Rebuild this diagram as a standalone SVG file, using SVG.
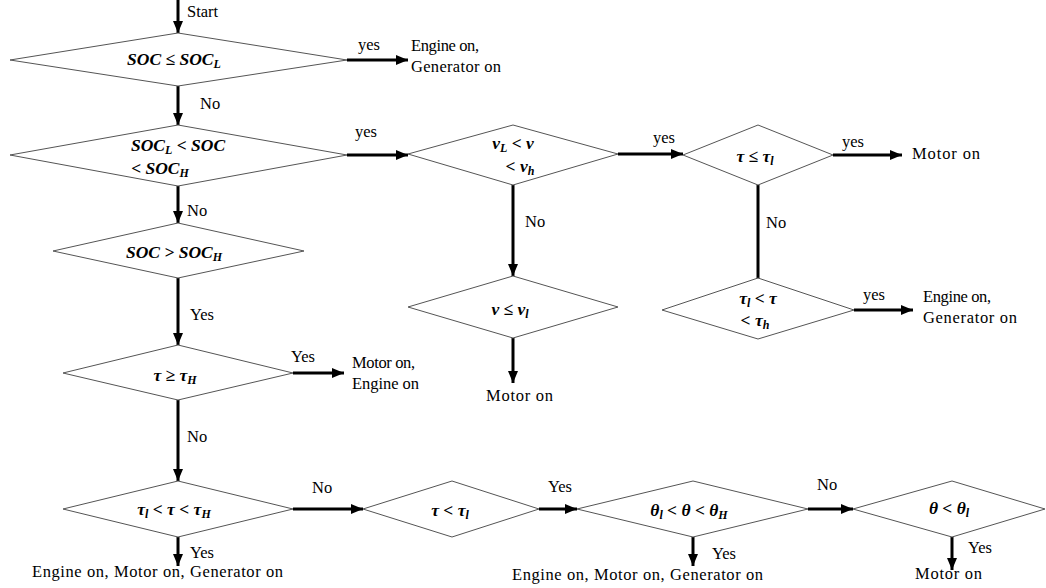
<svg xmlns="http://www.w3.org/2000/svg" width="1046" height="588" viewBox="0 0 1046 588">
<style>
.d{fill:#fff;stroke:#555;stroke-width:1}
.c{stroke:#000;stroke-width:3;fill:none}
.a{marker-end:url(#ah)}
text{font-family:'Liberation Serif','DejaVu Serif',serif}
.t{font-size:16.5px;fill:#000}
.m{font-size:17.5px;font-weight:bold;font-style:italic;fill:#000;text-anchor:middle}
.s{font-size:12px}
</style>
<defs>
<marker id="ah" markerUnits="userSpaceOnUse" markerWidth="12" markerHeight="10" refX="12" refY="5" orient="auto">
<path d="M0,0 L12,5 L0,10 Z" fill="#000"/>
</marker>
</defs>
<rect width="1046" height="588" fill="#fff"/>
<g id="connectors">
<line class="c a" x1="178" y1="0" x2="178" y2="33"/>
<line class="c a" x1="347" y1="60" x2="408" y2="60"/>
<line class="c a" x1="178" y1="86" x2="178" y2="125"/>
<line class="c a" x1="347" y1="155" x2="408" y2="155"/>
<line class="c a" x1="618" y1="154" x2="683" y2="154"/>
<line class="c a" x1="833" y1="155" x2="902" y2="155"/>
<line class="c" x1="758" y1="185" x2="758" y2="279"/>
<line class="c a" x1="854" y1="310" x2="913" y2="310"/>
<line class="c a" x1="513" y1="185" x2="513" y2="276"/>
<line class="c a" x1="513" y1="338" x2="513" y2="383"/>
<line class="c a" x1="178" y1="186" x2="178" y2="223"/>
<line class="c a" x1="178" y1="278" x2="178" y2="345"/>
<line class="c a" x1="293" y1="373" x2="344" y2="373"/>
<line class="c a" x1="178" y1="400" x2="178" y2="481"/>
<line class="c a" x1="293" y1="509" x2="363" y2="509"/>
<line class="c a" x1="178" y1="537" x2="178" y2="566"/>
<line class="c a" x1="539" y1="509" x2="577" y2="509"/>
<line class="c a" x1="693" y1="537" x2="693" y2="566"/>
<line class="c a" x1="808" y1="509" x2="853" y2="509"/>
<line class="c a" x1="952" y1="537" x2="952" y2="570"/>
</g>
<g id="labels">
<text class="t" x="187" y="17">Start</text>
<text class="t" x="358" y="50">yes</text>
<text class="t" x="411" y="51" textLength="68">Engine on,</text>
<text class="t" x="411" y="72" textLength="90">Generator on</text>
<text class="t" x="200" y="109">No</text>
<text class="t" x="355" y="137">yes</text>
<text class="t" x="187" y="216">No</text>
<text class="t" x="190" y="320">Yes</text>
<text class="t" x="291" y="362">Yes</text>
<text class="t" x="352" y="368" textLength="63">Motor on,</text>
<text class="t" x="352" y="389" textLength="67">Engine on</text>
<text class="t" x="187" y="442">No</text>
<text class="t" x="312" y="493">No</text>
<text class="t" x="190" y="558">Yes</text>
<text class="t" x="32" y="577" textLength="251">Engine on, Motor on, Generator on</text>
<text class="t" x="548" y="492">Yes</text>
<text class="t" x="712" y="559">Yes</text>
<text class="t" x="512" y="580" textLength="251">Engine on, Motor on, Generator on</text>
<text class="t" x="817" y="490">No</text>
<text class="t" x="968" y="553">Yes</text>
<text class="t" x="915" y="579" textLength="67">Motor on</text>
<text class="t" x="653" y="143">yes</text>
<text class="t" x="525" y="227">No</text>
<text class="t" x="486" y="401" textLength="67">Motor on</text>
<text class="t" x="842" y="147">yes</text>
<text class="t" x="912" y="159" textLength="68">Motor on</text>
<text class="t" x="766" y="228">No</text>
<text class="t" x="863" y="300">yes</text>
<text class="t" x="923" y="302" textLength="68">Engine on,</text>
<text class="t" x="923" y="323" textLength="94">Generator on</text>
</g>
<g id="n1"><polygon class="d" points="10,60 178,33 347,60 178,86"/>
<text class="m" x="174" y="65">SOC ≤ SOC<tspan class="s" dy="3">L</tspan></text></g>
<g id="n2"><polygon class="d" points="10,155 178,125 347,155 178,186"/>
<text class="m" x="178" y="151">SOC<tspan class="s" dy="3">L</tspan><tspan dy="-3"> &lt; SOC</tspan></text>
<text class="m" x="160" y="174">&lt; SOC<tspan class="s" dy="3">H</tspan></text></g>
<g id="n3"><polygon class="d" points="53,251 178,223 304,251 178,278"/>
<text class="m" x="174" y="258">SOC &gt; SOC<tspan class="s" dy="3">H</tspan></text></g>
<g id="n4"><polygon class="d" points="63,373 178,345 293,373 178,400"/>
<text class="m" x="175" y="381">τ ≥ τ<tspan class="s" dy="3">H</tspan></text></g>
<g id="n5"><polygon class="d" points="63,509 178,481 293,509 178,537"/>
<text class="m" x="174" y="515">τ<tspan class="s" dy="3">l</tspan><tspan dy="-3"> &lt; τ &lt; τ</tspan><tspan class="s" dy="3">H</tspan></text></g>
<g id="n6"><polygon class="d" points="408,154 513,125 618,154 513,185"/>
<text class="m" x="513" y="149">v<tspan class="s" dy="3">L</tspan><tspan dy="-3"> &lt; v</tspan></text>
<text class="m" x="520" y="172">&lt; v<tspan class="s" dy="3">h</tspan></text></g>
<g id="n7"><polygon class="d" points="683,155 758,125 833,155 758,185"/>
<text class="m" x="755" y="162">τ ≤  τ<tspan class="s" dy="3">l</tspan></text></g>
<g id="n8"><polygon class="d" points="662,310 758,278 854,310 758,339"/>
<text class="m" x="758" y="304">τ<tspan class="s" dy="3">l</tspan><tspan dy="-3"> &lt; τ</tspan></text>
<text class="m" x="755" y="326">&lt; τ<tspan class="s" dy="3">h</tspan></text></g>
<g id="n9"><polygon class="d" points="408,307 513,276 618,307 513,338"/>
<text class="m" x="510" y="315">v ≤ v<tspan class="s" dy="3">l</tspan></text></g>
<g id="n10"><polygon class="d" points="363,509 452,481 539,509 452,537"/>
<text class="m" x="450" y="516">τ &lt; τ<tspan class="s" dy="3">l</tspan></text></g>
<g id="n11"><polygon class="d" points="577,509 693,481 808,509 693,537"/>
<text class="m" x="689" y="516">θ<tspan class="s" dy="3">l</tspan><tspan dy="-3"> &lt; θ &lt; θ</tspan><tspan class="s" dy="3">H</tspan></text></g>
<g id="n12"><polygon class="d" points="853,509 952,481 1045,509 952,537"/>
<text class="m" x="949" y="514">θ &lt; θ<tspan class="s" dy="3">l</tspan></text></g>
</svg>
